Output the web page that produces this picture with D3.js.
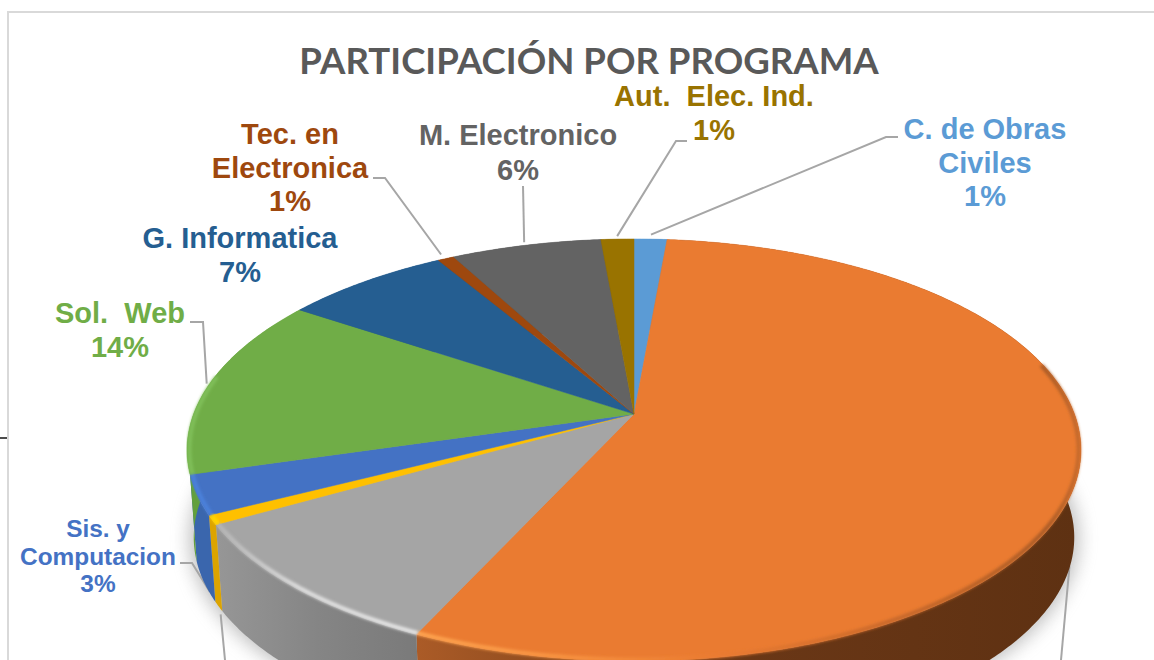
<!DOCTYPE html>
<html>
<head>
<meta charset="utf-8">
<script src="https://cdn.jsdelivr.net/npm/d3@7"></script>
<style>
    html, body { margin: 0; padding: 0; background: #fff; overflow: hidden; }
    text { white-space: pre; }
</style>
</head>
<body>
<div id="chart"></div>
<script>
// slices clockwise from 12 o'clock; the labels of the null ones are cut off in the picture
const categories = ['C. de Obras\nCiviles', null, null, null, 'Sis. y\nComputacion', 'Sol.  Web', 'G. Informatica', 'Tec. en\nElectronica', 'M. Electronico', 'Aut.  Elec. Ind.'];
const values = [1.4, 55.4, 9.9, 0.7, 3.0, 13.9, 7.1, 0.7, 6.4, 1.4];
const percentLabels = ['1%', null, null, null, '3%', '14%', '7%', '1%', '6%', '1%'];

const topColors = ['#5b9bd5', '#ea7b31', '#a5a5a5', '#ffc000', '#4472c4', '#70ad47', '#255e91', '#9e480e', '#636363', '#997300'];
const wallColors = ['#4a80b0', 'url(#wall1)', 'url(#wall2)', '#dca400', '#3a66ad', '#62a03c', '#1f4f7a', '#7f3a0b', '#505050', '#7a5c00'];
const rimColors = ['#5b9bd5', 'url(#rim1)', 'url(#rim2)', '#ffd800', '#4c82dc', '#80c05a', '#255e91', '#9e480e', '#636363', '#997300'];
const labelColors = ['#5b9bd5', null, null, null, '#4472c4', '#70ad47', '#255e91', '#9e480e', '#636363', '#997300'];

// label placement: centre x, first baseline, line step, font size, elbow points of the leader
const labelLayout = [
    {x: 985, y: 139, step: 33.5, size: 29, level: 0, r: 1.03, elbow: [[886, 137], [898, 137]]},
    {level: 1, r: 1.0, from: [-3, 10], elbow: [[1061, 660]]},
    null,
    {level: 1, r: 1.0, from: [2, 8], elbow: [[225, 660]]},
    {x: 98, y: 537, step: 27.5, size: 24.4, level: 1, r: 1.0, from: [6, 10], elbow: [[192, 563], [180, 563]]},
    {x: 120, y: 323, step: 34, size: 29, level: 0, r: 1.0, from: [-3, 0], elbow: [[203, 322], [190, 322]]},
    {x: 240, y: 248, step: 34, size: 29},
    {x: 290, y: 144, step: 33.5, size: 29, level: 0, r: 1.03, elbow: [[385, 178], [373, 178]]},
    {x: 518, y: 145, step: 35, size: 29, level: 0, r: 1.02, elbow: [[523, 186]]},
    {x: 714, y: 106, step: 34, size: 29, level: 0, r: 1.02, elbow: [[676, 141], [687, 141]]}
];

const width = 1154, height = 660;

// perspective pie: apex of the pie and the homography of the unit circle
const apex = {x: 634, y: 414};
const persp = {a: 440.4, b: 204.9, k: 0.1706, depth: 88, shrink: 0.985};

function project(angle, level, r) {
    let ux = Math.sin(angle) * r;
    let uy = -Math.cos(angle) * r;
    let w = 1 - persp.k * uy;
    let dx = persp.a * ux / w;
    let dy = persp.b * uy / w;
    if (level === 1) {
        return [apex.x + dx * persp.shrink, apex.y + dy * persp.shrink + persp.depth];
    }
    return [apex.x + dx, apex.y + dy];
}

function arcPoints(a0, a1, level, r) {
    let n = Math.max(2, Math.ceil((a1 - a0) / 0.01));
    return d3.range(n + 1).map(i => project(a0 + (a1 - a0) * i / n, level, r));
}

const line = d3.line();

const svg = d3.select('#chart').append('svg')
    .attr('width', width)
    .attr('height', height)
    .style('display', 'block');

// gradients and blurs
const defs = svg.append('defs');

function addGradient(id, x1, x2, stops) {
    let g = defs.append('linearGradient')
        .attr('id', id)
        .attr('gradientUnits', 'userSpaceOnUse')
        .attr('x1', x1).attr('x2', x2)
        .attr('y1', 0).attr('y2', 0);
    stops.forEach(s => g.append('stop')
        .attr('offset', s[0])
        .attr('stop-color', s[1]));
}

addGradient('wall1', 417, 1080, [[0, '#ab5b27'], [0.2, '#8f4c1f'], [0.5, '#6a3716'], [1, '#5e3112']]);
addGradient('wall2', 218, 417, [[0, '#969696'], [0.5, '#858585'], [1, '#7a7a7a']]);
addGradient('rim1', 417, 1080, [[0, '#ffa652'], [0.25, '#f7913f'], [0.45, '#ea7b31'], [0.7, '#c9692a'], [0.95, '#a85a25'], [1, '#c4692b']]);
addGradient('rim2', 218, 417, [[0, '#b5b5b5'], [0.4, '#e0e0e0'], [1, '#e8e8e8']]);

defs.append('filter').attr('id', 'soft').attr('x', '-10%').attr('y', '-10%').attr('width', '120%').attr('height', '120%')
    .append('feGaussianBlur').attr('stdDeviation', 1.5);
defs.append('filter').attr('id', 'shadow').attr('x', '-10%').attr('y', '-10%').attr('width', '120%').attr('height', '120%')
    .append('feGaussianBlur').attr('stdDeviation', 9);

// frame of the pasted chart and the stray tick at the left edge
svg.append('path')
    .attr('d', line([[8, height], [8, 12], [width, 12]]))
    .attr('fill', 'none')
    .attr('stroke', '#d9d9d9')
    .attr('stroke-width', 2);
svg.append('line')
    .attr('x1', 0).attr('x2', 7)
    .attr('y1', 438).attr('y2', 438)
    .attr('stroke', '#111')
    .attr('stroke-width', 1.5);

// title
svg.append('text')
    .attr('x', 589)
    .attr('y', 74)
    .attr('text-anchor', 'middle')
    .attr('font-family', 'Lato')
    .attr('font-weight', 700)
    .attr('font-size', 36.6)
    .attr('fill', '#595959')
    .text('PARTICIPACIÓN POR PROGRAMA');

const pie = d3.pie().sort(null).value(d => d);
const slices = pie(values);

// shadow below the wall
svg.append('path')
    .attr('d', line(arcPoints(0, 2 * Math.PI, 1, 1.01)) + 'Z')
    .attr('fill', '#8c8c8c')
    .attr('opacity', 0.55)
    .attr('filter', 'url(#shadow)');

// leader lines go under the pie
slices.forEach((s, i) => {
    let l = labelLayout[i];
    if (!l || !l.elbow) return;
    let mid = (s.startAngle + s.endAngle) / 2;
    let p = project(mid, l.level, l.r);
    if (l.from) p = [p[0] + l.from[0], p[1] + l.from[1]];
    svg.append('path')
        .attr('d', line([p].concat(l.elbow)))
        .attr('fill', 'none')
        .attr('stroke', '#a6a6a6')
        .attr('stroke-width', 2);
});

// side walls
svg.append('g').selectAll('path')
    .data(slices)
    .join('path')
    .attr('d', d => {
        let upper = arcPoints(d.startAngle, d.endAngle, 0, 1);
        let lower = arcPoints(d.startAngle, d.endAngle, 1, 1).reverse();
        return line(upper.concat(lower)) + 'Z';
    })
    .attr('fill', (d, i) => wallColors[i]);

// top face
svg.append('g').selectAll('path')
    .data(slices)
    .join('path')
    .attr('d', d => line([[apex.x, apex.y]].concat(arcPoints(d.startAngle, d.endAngle, 0, 1))) + 'Z')
    .attr('fill', (d, i) => topColors[i])
    .attr('stroke', (d, i) => topColors[i])
    .attr('stroke-width', 0.5);

// bevel on the front rim only
const rimStart = 0.42 * Math.PI, rimEnd = 1.56 * Math.PI;
svg.append('g').selectAll('path')
    .data(slices.filter(d => d.endAngle > rimStart && d.startAngle < rimEnd))
    .join('path')
    .attr('d', d => line(arcPoints(Math.max(d.startAngle, rimStart), Math.min(d.endAngle, rimEnd), 0, 0.995)))
    .attr('fill', 'none')
    .attr('stroke', d => rimColors[d.index])
    .attr('stroke-width', 4)
    .attr('filter', 'url(#soft)');

// data labels
slices.forEach((s, i) => {
    let l = labelLayout[i];
    if (!l || l.x === undefined) return;
    let rows = categories[i].split('\n').concat(percentLabels[i]);
    svg.append('text')
        .attr('text-anchor', 'middle')
        .attr('font-family', 'Liberation Sans')
        .attr('font-weight', 700)
        .attr('font-size', l.size)
        .attr('fill', labelColors[i])
        .selectAll('tspan')
        .data(rows)
        .join('tspan')
        .attr('x', l.x)
        .attr('y', (d, j) => l.y + j * l.step)
        .text(d => d);
});
</script>
</body>
</html>
